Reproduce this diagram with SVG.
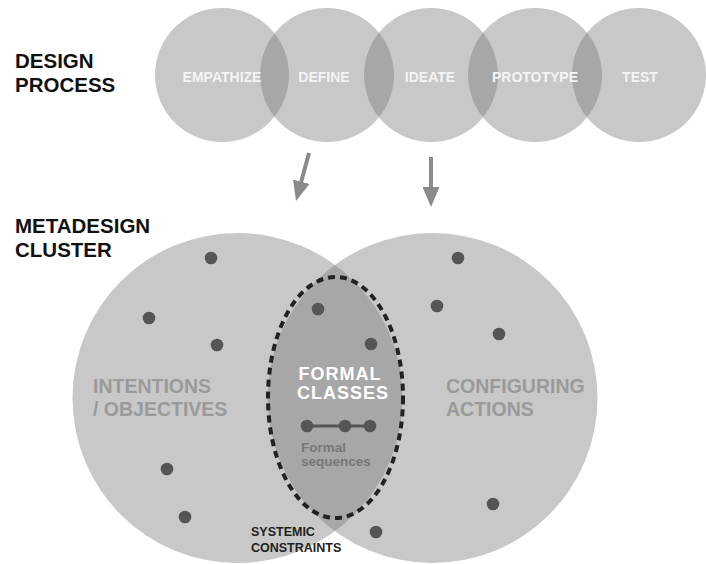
<svg xmlns="http://www.w3.org/2000/svg" width="706" height="564" viewBox="0 0 706 564">
  <style>
    text { font-family: "Liberation Sans", Arial, sans-serif; font-weight: bold; }
    .disc { fill: #c8c8c8; }
    .overlap { fill: #a7a7a7; }
    .step { fill: #f4f4f4; font-size: 14px; text-anchor: middle; }
    .heading { fill: #111111; font-size: 20.5px; }
    .area { fill: #9a9a9a; font-size: 19.5px; }
    .dot { fill: #555555; }
    .arrow { stroke: #8a8a8a; stroke-width: 4; fill: none; marker-end: url(#head); }
  </style>
  <defs>
    <marker id="head" markerUnits="userSpaceOnUse" markerWidth="20" markerHeight="17" refX="4" refY="8.5" orient="auto">
      <path d="M0,0 L20,8.5 L0,17 z" fill="#8a8a8a"/>
    </marker>
    <clipPath id="clip-empathize"><circle cx="222" cy="75" r="67"/></clipPath>
    <clipPath id="clip-define"><circle cx="327" cy="75" r="67"/></clipPath>
    <clipPath id="clip-ideate"><circle cx="431" cy="75" r="67"/></clipPath>
    <clipPath id="clip-prototype"><circle cx="535" cy="75" r="67"/></clipPath>
    <clipPath id="clip-intentions"><circle cx="237.5" cy="398" r="165"/></clipPath>
  </defs>

  <!-- section headings -->
  <g id="design-process-label">
    <text class="heading" x="15" y="68">DESIGN</text>
    <text class="heading" x="15" y="92">PROCESS</text>
  </g>
  <g id="metadesign-label">
    <text class="heading" x="15" y="233">METADESIGN</text>
    <text class="heading" x="15" y="257">CLUSTER</text>
  </g>

  <!-- design process steps -->
  <g id="empathize"><circle class="disc" cx="222" cy="75" r="67"/></g>
  <g id="define"><circle class="disc" cx="327" cy="75" r="67"/></g>
  <g id="ideate"><circle class="disc" cx="431" cy="75" r="67"/></g>
  <g id="prototype"><circle class="disc" cx="535" cy="75" r="67"/></g>
  <g id="test"><circle class="disc" cx="639" cy="75" r="67"/></g>
  <g id="step-overlaps">
    <circle class="overlap" cx="327" cy="75" r="67" clip-path="url(#clip-empathize)"/>
    <circle class="overlap" cx="431" cy="75" r="67" clip-path="url(#clip-define)"/>
    <circle class="overlap" cx="535" cy="75" r="67" clip-path="url(#clip-ideate)"/>
    <circle class="overlap" cx="639" cy="75" r="67" clip-path="url(#clip-prototype)"/>
  </g>
  <g id="step-labels">
    <text class="step" x="222" y="82">EMPATHIZE</text>
    <text class="step" x="324" y="82">DEFINE</text>
    <text class="step" x="430" y="82">IDEATE</text>
    <text class="step" x="535" y="82">PROTOTYPE</text>
    <text class="step" x="640" y="82">TEST</text>
  </g>

  <!-- connectors -->
  <g id="connectors">
    <line class="arrow" x1="309" y1="153" x2="300.2" y2="185.6"/>
    <line class="arrow" x1="431" y1="157" x2="431" y2="191"/>
  </g>

  <!-- metadesign cluster -->
  <g id="intentions">
    <circle class="disc" cx="237.5" cy="398" r="165"/>
  </g>
  <g id="configuring-actions">
    <circle class="disc" cx="432.5" cy="398" r="165"/>
  </g>
  <g id="formal-classes">
    <circle class="overlap" cx="432.5" cy="398" r="165" clip-path="url(#clip-intentions)"/>
    <ellipse cx="335.5" cy="397.5" rx="67.5" ry="120.5" fill="none" stroke="#222222" stroke-width="4" stroke-dasharray="7 5"/>
    <text x="340" y="380" fill="#ffffff" font-size="18px" letter-spacing="1" text-anchor="middle">FORMAL</text>
    <text x="343" y="399" fill="#ffffff" font-size="18px" letter-spacing="1" text-anchor="middle">CLASSES</text>
  </g>
  <g id="formal-sequences">
    <line x1="307" y1="426" x2="370" y2="426" stroke="#555555" stroke-width="3"/>
    <circle class="dot" cx="307" cy="426" r="6.3"/>
    <circle class="dot" cx="345" cy="426" r="6.3"/>
    <circle class="dot" cx="370" cy="426" r="6.3"/>
    <text x="301" y="452" fill="#777777" font-size="13.5px">Formal</text>
    <text x="301" y="466" fill="#777777" font-size="13.5px">sequences</text>
  </g>

  <g id="elements">
    <circle class="dot" cx="211" cy="258" r="6.3"/>
    <circle class="dot" cx="149" cy="318" r="6.3"/>
    <circle class="dot" cx="217" cy="345" r="6.3"/>
    <circle class="dot" cx="167" cy="469" r="6.3"/>
    <circle class="dot" cx="185" cy="517" r="6.3"/>
    <circle class="dot" cx="318" cy="309" r="6.3"/>
    <circle class="dot" cx="371" cy="344" r="6.3"/>
    <circle class="dot" cx="376" cy="532" r="6.3"/>
    <circle class="dot" cx="458" cy="258" r="6.3"/>
    <circle class="dot" cx="437" cy="306" r="6.3"/>
    <circle class="dot" cx="499" cy="334" r="6.3"/>
    <circle class="dot" cx="493" cy="504" r="6.3"/>
  </g>

  <g id="cluster-labels">
    <text class="area" x="93" y="393">INTENTIONS</text>
    <text class="area" x="93" y="416">/ OBJECTIVES</text>
    <text class="area" x="446" y="393">CONFIGURING</text>
    <text class="area" x="446" y="416">ACTIONS</text>
  </g>
  <g id="systemic-constraints">
    <text x="251" y="536" fill="#222222" font-size="12.5px">SYSTEMIC</text>
    <text x="251" y="552" fill="#222222" font-size="12.5px">CONSTRAINTS</text>
  </g>
</svg>
